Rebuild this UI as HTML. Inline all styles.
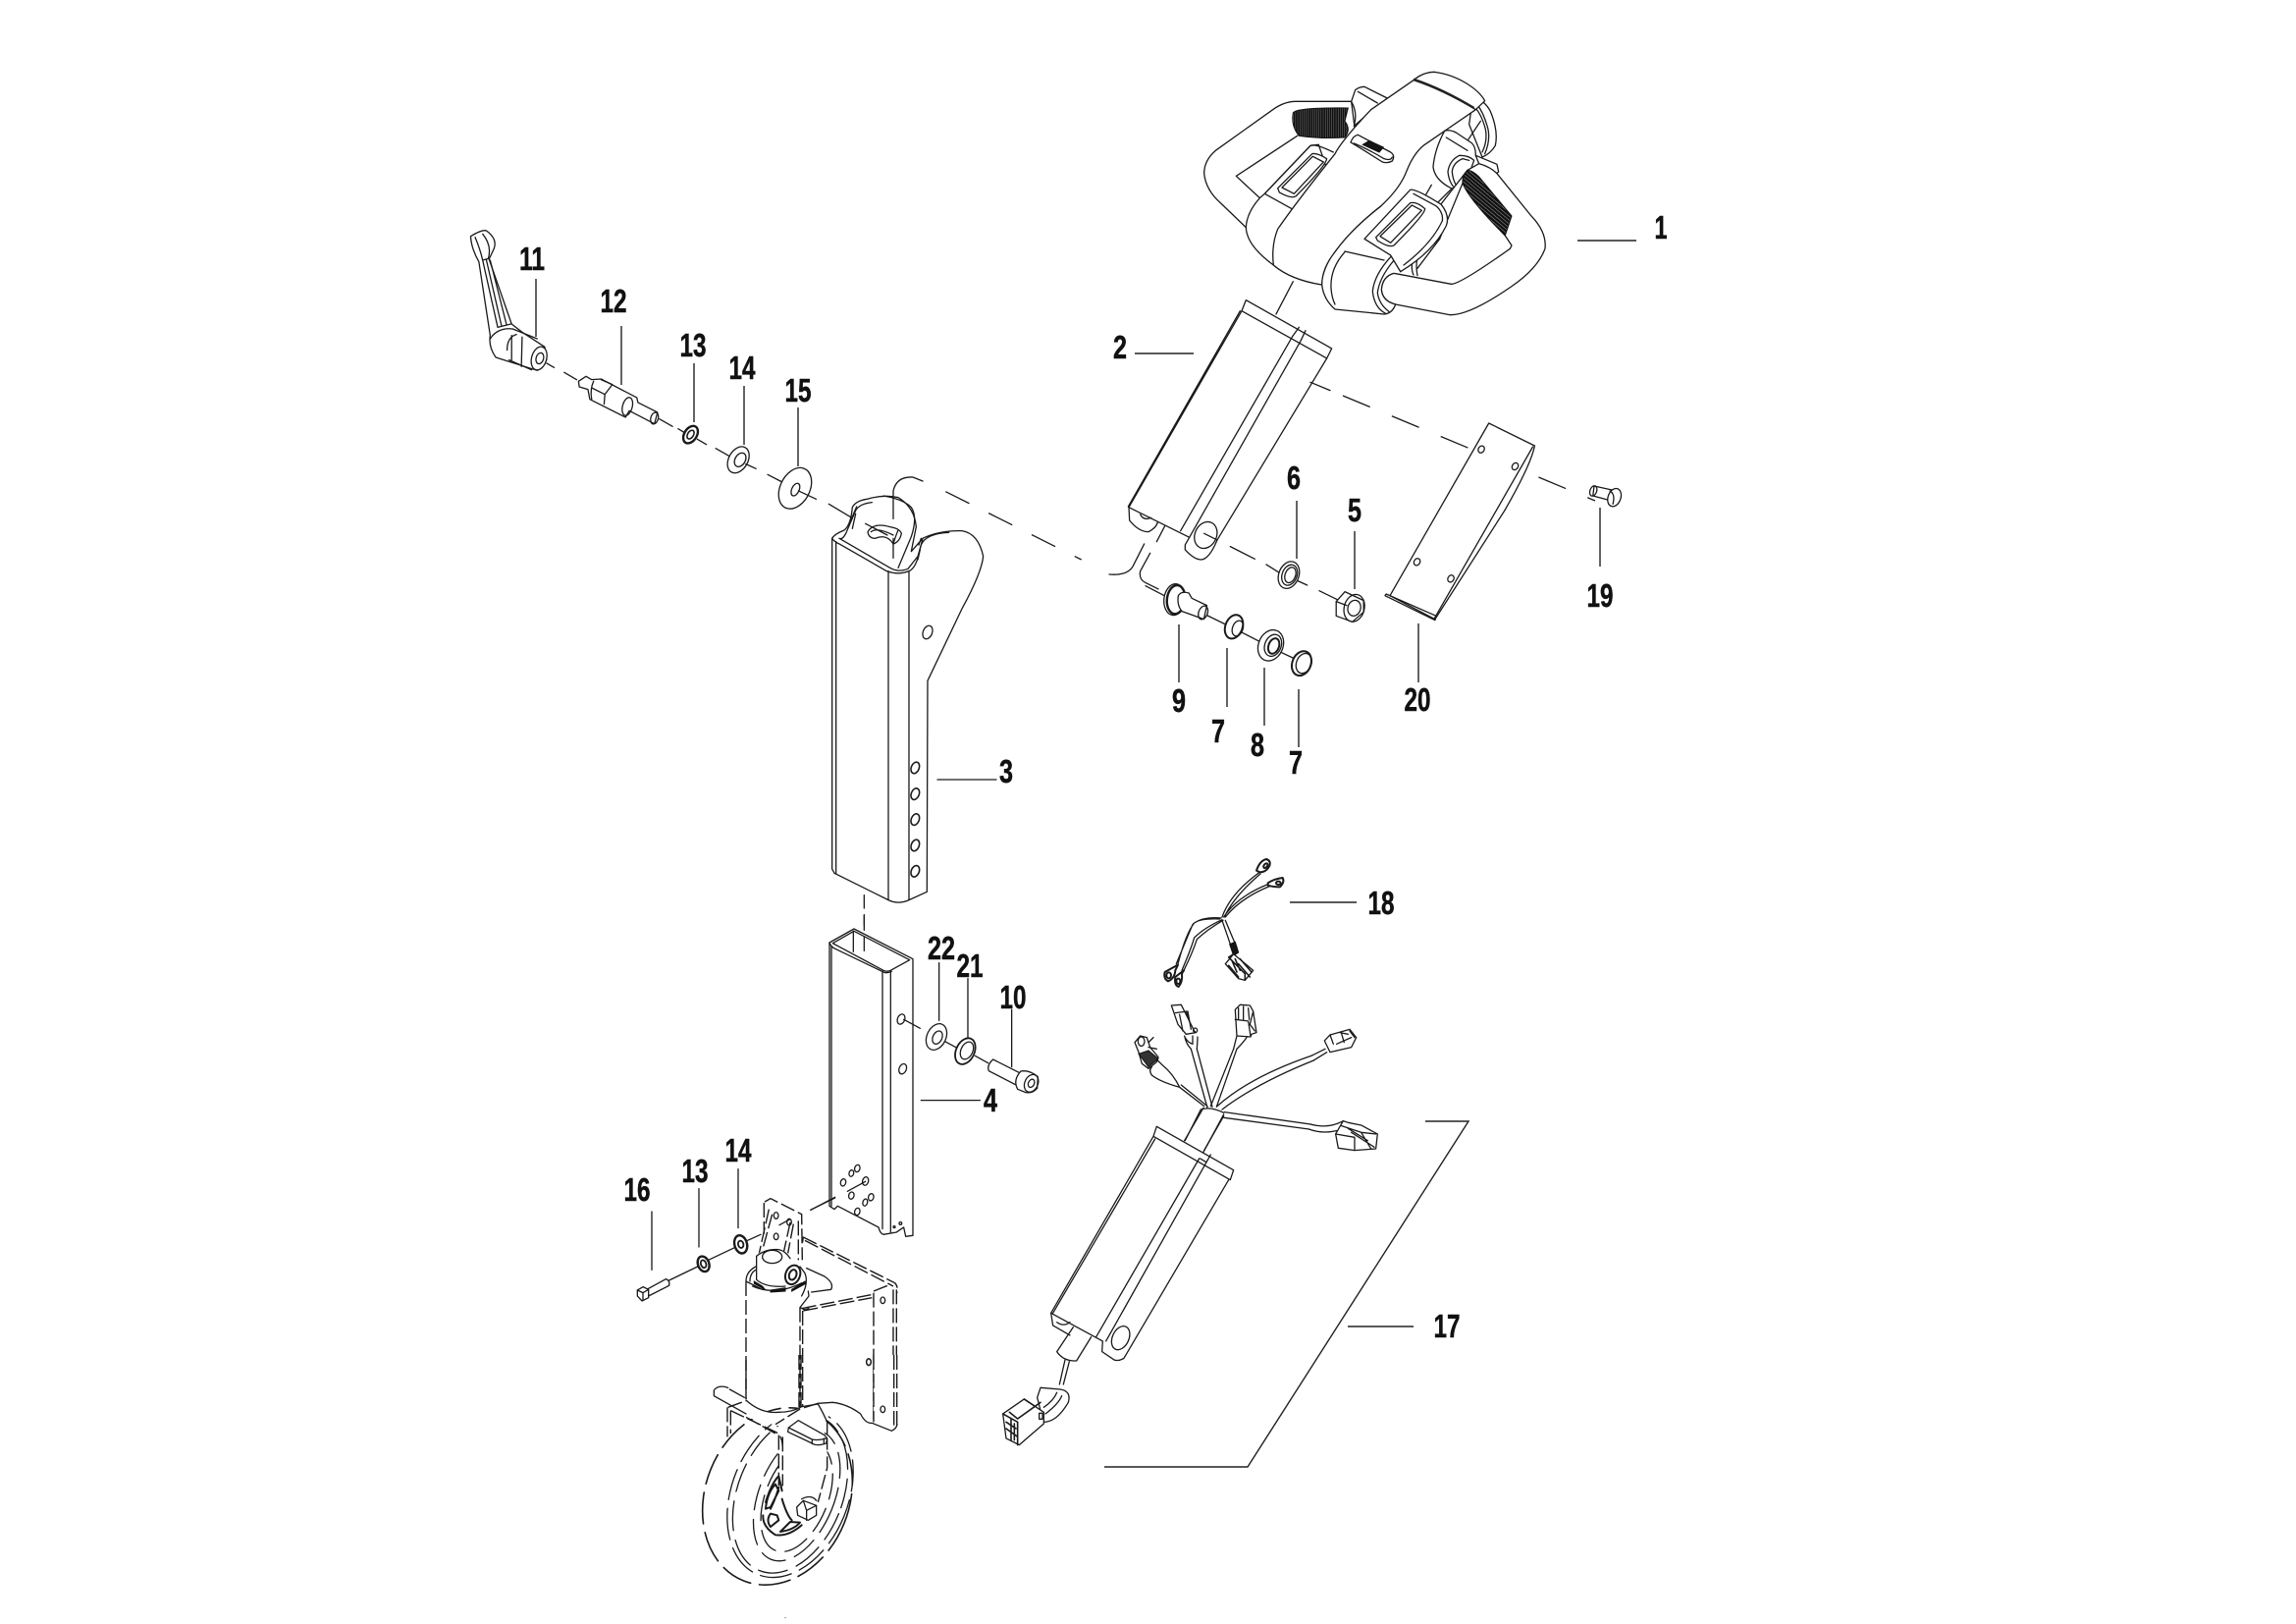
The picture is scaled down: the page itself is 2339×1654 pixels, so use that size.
<!DOCTYPE html>
<html><head><meta charset="utf-8"><style>
html,body{margin:0;padding:0;background:#fff;width:2339px;height:1654px;overflow:hidden}
svg{display:block}
svg *{vector-effect:non-scaling-stroke}
.l{fill:none;stroke:#1a1a1a;stroke-width:1.3;stroke-linecap:round;stroke-linejoin:round}
.w{fill:#fff}
.f{fill:#fff;stroke:#1a1a1a;stroke-width:1.3;stroke-linejoin:round}
.n{fill:#fff;stroke:none}
.d{fill:none;stroke:#1a1a1a;stroke-width:1.3;stroke-dasharray:36 24}
.k{fill:none;stroke:#1a1a1a;stroke-width:1.4;stroke-dasharray:15 4}
.ld{stroke:#222;stroke-width:1.4;fill:none}
.b{fill:#151515;stroke:#111;stroke-width:1}
text{font-family:"Liberation Sans Narrow","Liberation Sans",sans-serif;font-weight:bold;font-size:33px;fill:#111;stroke:#111;stroke-width:.5;text-anchor:middle}
</style></head><body>
<svg width="2339" height="1654" viewBox="0 0 2339 1654" xmlns="http://www.w3.org/2000/svg">
<defs>
<pattern id="r1" patternUnits="userSpaceOnUse" width="6.5" height="40"><rect width="6.5" height="40" fill="#111"/><rect width="1.3" height="40" fill="#888"/></pattern>
<pattern id="r2" patternUnits="userSpaceOnUse" width="9" height="40" patternTransform="rotate(-50)"><rect width="9" height="40" fill="#111"/><rect width="1.6" height="40" fill="#999"/></pattern>
</defs>
<rect width="2339" height="1654" fill="#fff"/>

<!-- Handle (traced) -->
<g transform="translate(1220,60) scale(.3333)">
<line class="l" x1="292" y1="680" x2="240" y2="780"/>
<path class="f" d="M470,130 L300,130 Q265,130 230,155 L55,280 Q20,310 20,350 Q25,400 70,440 L148,515 L300,500 L480,210Z"/>
<path class="l" d="M305,235 L118,358 L190,425"/>
<path d="M292,165 Q300,148 460,150 L450,190 Q470,215 450,240 Q380,245 310,235 Q285,205 292,165Z" fill="url(#r1)" stroke="#111" stroke-width="1"/>
<path class="f" d="M470,130 L482,95 Q495,85 510,85 L580,120 L530,160 L478,205 Q490,165 470,130Z"/>
<path class="l" d="M490,100 L550,135"/>
<!-- rear dome ring -->
<path class="f" d="M840,130 Q870,115 895,160 Q920,220 910,265 Q895,290 870,300 L830,200Z"/>
<path class="l" d="M855,140 Q875,165 888,215 Q895,250 878,290 M850,150 Q870,175 880,215 Q887,250 870,285"/>
<path class="f" d="M660,65 Q690,40 725,40 C800,50 860,95 878,128 L850,155 L700,100Z"/>
<line class="l" x1="865" y1="190" x2="825" y2="250"/>
<!-- left band -->
<path class="f" d="M190,425 Q150,470 148,515 Q150,570 232,630 Q285,675 380,690 L450,500 L370,262 L345,265 L205,412Z"/>
<path class="l" d="M205,412 L295,462 M205,412 L345,265 Q360,258 415,285"/>
<path class="f" d="M245,395 L350,290 Q365,286 395,305 Q390,330 300,420 Q285,428 250,408Z"/>
<path class="l" d="M258,393 L352,298 L385,315 L295,412Z"/>
<!-- main body -->
<path class="f" d="M660,65 L530,155 Q440,250 420,290 Q300,440 245,520 Q225,570 232,630 Q285,675 380,690 Q385,640 420,590 Q470,520 560,450 Q620,395 640,340 Q660,290 690,265 L850,155 Q750,95 660,65Z"/>
<path d="M660,62 Q750,92 845,150" fill="none" stroke="#222" stroke-width="2.2"/>
<path class="f" d="M468,255 Q475,235 490,232 L590,285 Q605,295 595,312 Q580,320 565,315 Q510,280 468,255Z"/>
<path class="l" d="M478,258 Q520,275 570,305 Q590,312 595,300"/>
<path class="b" d="M505,262 L525,250 L568,270 L555,285Z"/>
<!-- struts -->
<line class="l" x1="715" y1="385" x2="695" y2="420"/>
<line class="l" x1="775" y1="398" x2="735" y2="438"/>
<!-- hinge -->
<path class="f" d="M755,220 Q770,215 790,225 L835,255 Q850,265 850,295 L915,322 L920,345 L860,400 L775,395 Q725,370 720,330 Q725,275 755,220Z"/>
<path class="l" d="M760,240 L825,280 M850,295 L860,320"/>
<path class="f" d="M765,345 Q770,310 800,295 Q830,295 845,310 L815,395 L800,405 Q770,390 765,345Z"/>
<path class="l" d="M778,345 Q780,318 810,305 L830,310 M778,345 Q782,385 803,398"/>
<!-- right handle -->
<path class="f" d="M600,655 Q565,665 562,705 Q565,740 605,750 L770,782 Q830,785 960,695 Q1040,640 1062,580 Q1068,530 1020,480 L915,350 Q895,330 860,320 L825,340 L700,500Z"/>
<path class="f" d="M600,655 L775,688 Q800,690 955,580 L960,570 L940,540 L810,380 L740,550Z"/>
<path d="M825,340 Q808,355 810,380 Q830,430 940,540 L960,480 L860,360 Q840,340 825,340Z" fill="url(#r2)" stroke="#111" stroke-width="1"/>
<path class="l" d="M660,600 Q650,640 660,660 M675,590 Q665,630 672,662 M740,550 L672,640"/>
<!-- right housing -->
<path class="f" d="M510,550 L650,400 Q665,395 745,445 Q772,480 760,510 Q720,590 620,650 L590,605Z"/>
<path class="l" d="M660,412 L730,450 Q752,470 748,495 Q715,565 630,630"/>
<path class="f" d="M545,545 L650,440 Q670,435 695,458 Q695,475 600,570 Q585,578 550,555Z"/>
<path class="l" d="M558,542 L655,447 L685,463 L590,562Z"/>
<!-- lower band -->
<path class="f" d="M510,550 L590,600 L620,650 L600,655 Q565,665 562,705 Q565,740 605,750 L575,778 L420,765 Q385,735 380,690 Q385,640 420,590 Q470,520 510,500Z" style="stroke:none"/>
<path class="l" d="M510,550 L590,600 L620,650 M420,590 Q470,520 560,450 M420,590 Q380,640 380,690 Q385,735 420,765 L570,780 Q595,778 605,750 M450,590 Q405,640 408,700 Q410,730 420,750 M450,588 L570,615"/>
<path class="l" d="M590,605 Q540,660 535,710 Q540,760 575,778 M598,618 Q555,670 550,715 Q555,750 585,772"/>
<path class="l" d="M600,655 Q565,665 562,705 Q565,740 605,750"/>
</g>

<!-- Part 2 (traced) -->
<g transform="translate(1130,300) scale(.3333)">
<path class="n" d="M405,50 L418,17 L680,165 L668,192 L330,750 Q300,810 280,810 L232,780 L245,742 L60,650Z"/>
<path class="l" d="M405,50 L418,17 L680,165 L665,195 L405,50 L60,650 M400,50 L58,648"/>
<path class="l" d="M665,195 L330,750 Q305,810 280,810 Q260,810 232,780 L232,765 L245,742 L60,650"/>
<path class="l" d="M60,650 L62,690 Q90,725 120,725 Q145,712 148,695 M95,672 Q105,692 128,682"/>
<path class="l" d="M580,100 L560,128 L218,722 M600,110 L585,142 L245,742"/>
<ellipse class="l" cx="295" cy="735" rx="33" ry="42" transform="rotate(25 295 735)"/>
<path class="l" d="M290,730 L330,750 M370,770 L445,808 M480,825 L520,850"/>
<path class="l" d="M615,268 L675,293"/>
<path class="l" d="M0,855 Q60,860 75,825 L107,762 M145,755 L170,707 M125,790 L95,845 Q90,870 110,880 L150,900"/>
</g>
<path class="d" style="stroke-dasharray:30 24" d="M1368,403 L1625,510"/>

<!-- plate 20 & small parts -->
<g transform="translate(1100,420) scale(.383,.3333)">
<path class="f" d="M1088,33 L1210,102 Q1200,160 1130,300 L945,632 L825,560Z"/>
<path class="l" d="M1205,105 L942,632 M812,560 L945,635 L948,622 L815,555Z"/>
<ellipse class="l" cx="1068" cy="113" rx="8" ry="11" transform="rotate(20 1068 113)"/>
<ellipse class="l" cx="1158" cy="165" rx="8" ry="11" transform="rotate(20 1158 165)"/>
<ellipse class="l" cx="897" cy="457" rx="8" ry="11" transform="rotate(20 897 457)"/>
<ellipse class="l" cx="987" cy="508" rx="8" ry="11" transform="rotate(20 987 508)"/>
<!-- 19 -->
<path class="f" d="M1368,225 L1420,238 L1420,272 L1365,255Z"/>
<ellipse class="l" cx="1366" cy="240" rx="9" ry="16" transform="rotate(15 1366 240)"/>
<ellipse class="f" cx="1422" cy="260" rx="17" ry="28" transform="rotate(15 1422 260)"/>
<path class="l" d="M1410,240 Q1425,250 1418,280"/>
<!-- dashes centre -->
<line class="l" x1="580" y1="515" x2="605" y2="528"/>
<line class="l" x1="637" y1="545" x2="685" y2="572"/>
<!-- 6 -->
<ellipse class="f" cx="556" cy="497" rx="27" ry="42" transform="rotate(15 556 497)"/>
<ellipse class="l" cx="558" cy="497" rx="20" ry="32" transform="rotate(15 558 497)"/>
<ellipse class="l" cx="560" cy="497" rx="14" ry="24" transform="rotate(15 560 497)"/>
<!-- 5 nut -->
<path class="f" d="M682,578 L705,548 L755,575 L755,610 L725,640 L682,622Z"/>
<ellipse class="l" cx="730" cy="598" rx="17" ry="24" transform="rotate(10 730 598)"/>
<ellipse class="l" cx="730" cy="598" rx="27" ry="42" transform="rotate(10 730 598)"/>
<path class="l" d="M682,578 L710,590"/>
<path class="l" d="M175,530 L225,560"/>
<!-- 9 -->
<ellipse class="f" cx="252" cy="572" rx="28" ry="48" transform="rotate(5 252 572)"/>
<ellipse class="l" cx="256" cy="572" rx="24" ry="44" transform="rotate(5 256 572)" style="stroke-width:2.4"/>
<path class="f" d="M262,560 Q270,545 290,552 L298,568 L338,590 L330,632 L272,608 Q258,590 262,560Z"/>
<ellipse class="l" cx="328" cy="612" rx="12" ry="21" transform="rotate(15 328 612)"/>
<line class="l" x1="338" y1="620" x2="388" y2="648"/>
<!-- 7 -->
<ellipse class="f" cx="410" cy="655" rx="23" ry="37" transform="rotate(15 410 655)" style="stroke-width:2"/>
<ellipse class="l" cx="420" cy="660" rx="14" ry="24" transform="rotate(15 420 660)"/>
<line class="l" x1="432" y1="673" x2="478" y2="700"/>
<!-- 8 -->
<ellipse class="f" cx="508" cy="712" rx="33" ry="48" transform="rotate(15 508 712)"/>
<ellipse class="l" cx="514" cy="712" rx="22" ry="34" transform="rotate(15 514 712)"/>
<ellipse class="l" cx="516" cy="714" rx="14" ry="24" transform="rotate(15 516 714)" style="stroke-width:2"/>
<line class="l" x1="535" y1="733" x2="570" y2="752"/>
<!-- 7b -->
<ellipse class="f" cx="590" cy="767" rx="25" ry="38" transform="rotate(15 590 767)" style="stroke-width:2"/>
<ellipse class="l" cx="596" cy="767" rx="20" ry="31" transform="rotate(15 596 767)"/>
</g>

<!-- Lever & washers upper-left -->
<g transform="translate(440,210) scale(.383,.3333)">
<path class="f" d="M103,92 Q135,70 145,75 Q175,100 165,130 L152,162 L212,360 L240,385 L300,430 L305,470 L280,502 L170,462 Q150,430 155,395 L125,170 Q105,130 103,92Z"/>
<path class="l" d="M115,95 Q128,130 135,165 L150,160 M135,165 L175,370 L210,360 M135,85 Q160,120 150,160 M145,165 L185,365 M155,165 L198,360 M155,405 Q175,370 215,375 L280,405"/>
<path class="l" d="M200,440 Q200,400 225,392 M212,395 L212,470 M240,400 L238,490 M205,470 L265,500"/>
<ellipse class="f" cx="285" cy="465" rx="20" ry="36" transform="rotate(12 285 465)"/>
<ellipse class="l" cx="287" cy="465" rx="10" ry="17" transform="rotate(12 287 465)"/>
<line class="l" x1="305" y1="480" x2="325" y2="493"/><line class="l" x1="352" y1="508" x2="385" y2="530"/>
<!-- 12 -->
<path class="f" d="M390,535 L410,520 L425,530 L450,528 L545,585 L548,600 L600,630 L592,665 L525,625 L515,645 L420,590 L415,560 L392,552Z"/>
<ellipse class="l" cx="592" cy="648" rx="10" ry="18" transform="rotate(12 592 648)"/>
<ellipse class="l" cx="520" cy="612" rx="13" ry="28" transform="rotate(12 520 612)"/>
<path class="l" d="M425,555 L460,575 L480,545 L450,530 M460,575 L458,605 M430,535 Q420,560 425,590"/>
<line class="l" x1="605" y1="650" x2="640" y2="673"/>
<line class="l" x1="655" y1="680" x2="672" y2="692"/>
<!-- 13 -->
<ellipse class="f" cx="688" cy="698" rx="17" ry="28" transform="rotate(25 688 698)" style="stroke-width:2.4"/>
<ellipse class="l" cx="688" cy="698" rx="8" ry="14" transform="rotate(25 688 698)" style="stroke-width:1.6"/>
<line class="l" x1="706" y1="712" x2="730" y2="728"/><line class="l" x1="755" y1="740" x2="790" y2="763"/>
<!-- 14 -->
<ellipse class="f" cx="815" cy="775" rx="26" ry="42" transform="rotate(22 815 775)"/>
<ellipse class="l" cx="820" cy="775" rx="14" ry="22" transform="rotate(22 820 775)"/>
<line class="l" x1="835" y1="788" x2="862" y2="802"/><line class="l" x1="893" y1="820" x2="930" y2="842"/>
<!-- 15 -->
<ellipse class="f" cx="966" cy="862" rx="40" ry="65" transform="rotate(20 966 862)"/>
<ellipse class="l" cx="967" cy="866" rx="10" ry="20" transform="rotate(20 967 866)"/>
<line class="l" x1="975" y1="870" x2="1022" y2="895"/>
</g>

<!-- Column part 3 -->
<g transform="translate(800,480) scale(.3333)">
<path class="f" d="M143,205 Q150,192 180,180 Q200,165 205,110 Q215,90 250,85 Q300,70 345,80 Q395,110 400,170 L385,245 L420,205 Q470,180 540,182 Q590,190 605,260 Q600,310 540,420 L435,640 L433,1285 L378,1310 Q345,1325 315,1310 L150,1228 L143,1215Z"/>
<path class="l" d="M155,215 L155,1230 M315,305 L315,1310 M378,305 L378,1310"/>
<path class="l" d="M143,205 Q150,215 165,222 L310,305 Q345,318 378,305 Q395,298 405,265 L420,205"/>
<path class="l" d="M165,205 Q175,210 185,190 L215,120 Q225,100 265,95 M165,205 L320,295 Q345,310 375,298 L405,260 L415,225 Q430,190 500,187"/>
<path class="l" d="M200,150 L218,108 M205,175 L215,130 M408,225 L415,205 M405,270 L412,240"/>
<path class="l" d="M345,295 L385,200 Q405,140 385,110 Q360,85 300,75"/>
<path class="f" d="M252,185 Q270,155 320,170 Q350,175 355,190 Q350,215 330,222 Q310,190 275,205 Q255,205 252,185Z"/>
<path class="l" d="M262,185 Q280,170 330,195 M330,222 Q340,190 345,180"/>
<line class="l" x1="133" y1="100" x2="200" y2="140"/>
<line class="l" x1="245" y1="160" x2="312" y2="195"/>
<path class="l" d="M330,145 L330,60 Q340,15 390,18 L420,30"/>
<line class="l" x1="330" y1="205" x2="330" y2="265"/>
<path class="d" style="stroke-dasharray:27 22" d="M490,62 L905,270"/>
<ellipse class="l" cx="435" cy="492" rx="14" ry="21" transform="rotate(22 435 492)"/>
<ellipse class="l" cx="397" cy="906" rx="12" ry="18" transform="rotate(22 397 906)" style="stroke-width:1.6"/>
<ellipse class="l" cx="397" cy="986" rx="12" ry="18" transform="rotate(22 397 986)" style="stroke-width:1.6"/>
<ellipse class="l" cx="397" cy="1064" rx="12" ry="18" transform="rotate(22 397 1064)" style="stroke-width:1.6"/>
<ellipse class="l" cx="397" cy="1143" rx="12" ry="18" transform="rotate(22 397 1143)" style="stroke-width:1.6"/>
<ellipse class="l" cx="397" cy="1222" rx="12" ry="18" transform="rotate(22 397 1222)" style="stroke-width:1.6"/>
<line class="l" x1="465" y1="942" x2="645" y2="942"/>
<line class="l" x1="241" y1="1295" x2="241" y2="1335"/>
<line class="l" x1="241" y1="1355" x2="241" y2="1385"/>
</g>

<!-- Tube part 4 -->
<g transform="translate(800,930) scale(.3333)">
<path class="f" d="M135,90 L210,48 L390,140 L390,985 L368,988 L362,960 L340,975 L300,982 Q290,980 285,960 L160,895 L150,905 L135,895Z"/>
<path class="l" d="M145,92 L210,55 L380,143 L322,175 Q310,180 300,175Z"/>
<path class="l" d="M135,90 Q140,105 155,110 L300,180 Q310,185 325,178 M141,100 L141,895 M297,178 L297,965 M322,178 L322,975 M208,55 L208,118"/>
<line class="l" x1="241" y1="8" x2="241" y2="52"/>
<line class="l" x1="241" y1="72" x2="241" y2="115"/>
<ellipse class="l" cx="354" cy="324" rx="11" ry="16" transform="rotate(22 354 324)"/>
<ellipse class="l" cx="359" cy="476" rx="11" ry="16" transform="rotate(22 359 476)"/>
<line class="l" x1="362" y1="325" x2="412" y2="352"/>
<ellipse class="l" cx="177" cy="823" rx="8" ry="11" transform="rotate(15 177 823)"/>
<ellipse class="l" cx="202" cy="795" rx="7" ry="10" transform="rotate(15 202 795)"/>
<ellipse class="l" cx="220" cy="780" rx="8" ry="11" transform="rotate(15 220 780)"/>
<ellipse class="l" cx="245" cy="819" rx="9" ry="13" transform="rotate(15 245 819)"/>
<ellipse class="l" cx="202" cy="863" rx="8" ry="11" transform="rotate(15 202 863)"/>
<ellipse class="l" cx="244" cy="884" rx="7" ry="11" transform="rotate(15 244 884)"/>
<ellipse class="l" cx="262" cy="868" rx="8" ry="11" transform="rotate(15 262 868)"/>
<ellipse class="l" cx="220" cy="912" rx="8" ry="11" transform="rotate(15 220 912)"/>
<circle class="l" cx="333" cy="959" r="3"/><circle class="l" cx="352" cy="948" r="4"/>
<line class="l" x1="190" y1="850" x2="245" y2="820"/>
<line class="l" x1="78" y1="907" x2="152" y2="868"/>
<line class="l" x1="415" y1="572" x2="595" y2="572"/>
<!-- washers -->
<ellipse class="f" cx="462" cy="378" rx="29" ry="42" transform="rotate(25 462 378)"/>
<ellipse class="l" cx="465" cy="380" rx="14" ry="21" transform="rotate(25 465 380)"/>
<line class="l" x1="488" y1="392" x2="525" y2="412"/>
<ellipse class="f" cx="550" cy="422" rx="28" ry="42" transform="rotate(25 550 422)" style="stroke-width:1.8"/>
<ellipse class="l" cx="555" cy="420" rx="18" ry="28" transform="rotate(25 555 420)"/>
<line class="l" x1="580" y1="436" x2="620" y2="458"/>
<path class="f" d="M635,447 L720,490 L705,525 L622,482 Q615,465 635,447Z"/>
<path class="f" d="M720,483 Q745,478 772,500 L770,535 Q755,552 735,548 L710,538 Q695,510 720,483Z"/>
<ellipse class="l" cx="752" cy="520" rx="20" ry="28" transform="rotate(25 752 520)"/>
<ellipse class="l" cx="752" cy="520" rx="9" ry="13" transform="rotate(25 752 520)"/>
<line class="l" x1="470" y1="152" x2="470" y2="328"/>
<line class="l" x1="558" y1="200" x2="558" y2="380"/>
<line class="l" x1="692" y1="295" x2="692" y2="470"/>
</g>

<!-- Lower support -->
<g transform="translate(620,1150) scale(.3333)">
<path class="n" d="M477,222 L495,212 Q570,235 592,265 L590,320 L580,410 L460,380 L480,300Z"/>
<path class="k" d="M475,225 L475,320 M477,222 L495,212 L590,260 L592,400 M580,280 L580,400 M490,245 L460,380 M500,260 L470,370 M555,285 L530,400 M565,290 L545,395"/>
<ellipse class="l" cx="512" cy="264" rx="7" ry="10"/><ellipse class="l" cx="552" cy="284" rx="7" ry="10"/><ellipse class="l" cx="512" cy="328" rx="7" ry="10"/>
<line class="l" x1="522" y1="293" x2="555" y2="275"/>
<line class="l" x1="617" y1="247" x2="692" y2="210"/>
<path class="k" d="M595,330 L875,470 Q885,480 882,500 M600,340 L870,480"/>
<path class="k" d="M810,495 L860,475 M590,548 L808,505 M595,555 L805,515"/>
<path class="k" d="M810,500 L810,900 M870,490 L870,900 M880,490 L880,900"/>
<path class="k" d="M420,465 L420,825 M585,545 L585,850 M593,555 L593,850" />
<path class="n" d="M417,465 Q425,425 450,415 L452,385 Q470,365 520,368 Q560,380 570,400 Q600,430 605,450 Q610,500 590,540 L480,500Z"/>
<path class="l" d="M452,388 L452,460 Q480,485 540,480 M452,388 Q480,365 520,368 Q540,372 555,395"/>
<ellipse class="l" cx="500" cy="390" rx="30" ry="20"/>
<path class="l" d="M420,465 Q420,435 450,420 M432,465 Q432,440 450,430 M590,510 Q612,470 600,440 L585,420 M605,425 L660,450 Q690,470 680,490 L620,498 M420,465 L470,490 M440,480 Q510,510 590,470"/>
<path class="b" d="M445,472 L478,490 L470,480 L445,465Z M495,492 L540,485 L540,495 L495,498Z M560,490 L600,465 L602,472 L560,495Z" />
<ellipse class="f" cx="563" cy="445" rx="22" ry="30" transform="rotate(20 563 445)" style="stroke-width:2"/>
<ellipse class="l" cx="563" cy="445" rx="11" ry="16" transform="rotate(20 563 445)" style="stroke-width:2"/>
<path class="l" d="M610,495 L612,510 L585,545 M585,545 L600,552 L612,548"/>
<ellipse class="l" cx="838" cy="523" rx="7" ry="10"/><ellipse class="l" cx="795" cy="711" rx="7" ry="10"/><ellipse class="l" cx="838" cy="855" rx="7" ry="10"/>
<path class="l" d="M595,330 L593,345"/>
<line class="l" x1="396" y1="122" x2="396" y2="302"/>
<line class="l" x1="276" y1="182" x2="276" y2="360"/>
<line class="l" x1="132" y1="252" x2="132" y2="430"/>
<!-- washers -->
<ellipse class="f" cx="404" cy="352" rx="19" ry="28" transform="rotate(-15 404 352)" style="stroke-width:2.4"/>
<ellipse class="l" cx="404" cy="352" rx="8" ry="11" transform="rotate(-15 404 352)" style="stroke-width:1.8"/>
<line class="l" x1="425" y1="340" x2="465" y2="322"/>
<line class="l" x1="305" y1="400" x2="385" y2="362"/>
<ellipse class="f" cx="290" cy="412" rx="17" ry="24" transform="rotate(-20 290 412)" style="stroke-width:2.4"/>
<ellipse class="l" cx="290" cy="412" rx="8" ry="12" transform="rotate(-20 290 412)" style="stroke-width:1.8"/>
<line class="l" x1="185" y1="462" x2="272" y2="420"/>
<path class="f" d="M120,488 L175,458 Q188,462 185,478 L122,510Z"/>
<path class="f" d="M88,492 L105,482 L122,490 L122,515 L102,525 L88,510Z"/>
<path class="l" d="M105,500 L105,522 M88,492 L105,500 L122,490"/>
</g>

<!-- Wheel -->
<g transform="translate(690,1380) scale(.3333)">
<ellipse class="l" cx="306" cy="432" rx="220" ry="278" transform="rotate(22 306 432)" style="stroke-dasharray:32 9;stroke-width:1.6"/>
<ellipse class="l" cx="345" cy="425" rx="178" ry="265" transform="rotate(22 345 425)" style="stroke-dasharray:32 9"/>
<ellipse class="l" cx="345" cy="425" rx="160" ry="252" transform="rotate(22 345 425)" style="stroke-dasharray:30 10"/>
<ellipse class="l" cx="365" cy="430" rx="115" ry="210" transform="rotate(22 365 430)" style="stroke-dasharray:26 10"/>
<ellipse class="l" cx="365" cy="435" rx="95" ry="175" transform="rotate(22 365 435)" style="stroke-dasharray:26 10"/>
<path class="n" d="M310,220 L340,220 L445,210 L458,290 L455,340 L425,455 L310,400Z"/>
<path class="l" d="M262,490 Q260,525 300,550 Q340,555 380,520 M270,450 Q285,400 305,375 L310,370 L320,415 M285,470 Q300,440 310,405 M320,440 Q335,490 350,505 M285,485 Q270,505 285,525 L310,505 L305,490Z M315,540 L345,510 L375,512 Q355,535 315,540Z M270,470 Q275,420 300,395 L310,415 L285,465Z" style="stroke-width:2"/>
<path class="f" d="M365,465 L385,445 L425,460 L425,490 L400,505 L368,490Z"/>
<path class="l" d="M385,445 L395,475 L425,460 M395,475 L395,505 M380,440 Q410,425 425,445"/>
<path class="k" d="M310,245 L310,400 M322,250 L322,400 M458,200 L458,290 M458,310 L458,345 L430,450"/>
<path class="n" d="M112,108 Q125,90 155,100 L215,140 Q260,180 310,175 Q350,175 380,160 L430,150 Q480,140 520,165 L570,190 L585,210 L598,208 L660,232 L672,215 L672,0 L600,0 L600,215 L520,165 L458,145 L462,195 L440,210 L340,225 L300,215 L210,190 L170,160Z"/>
<path class="l" d="M112,108 L112,125 L210,180 M112,108 Q125,90 155,100 M160,105 L205,130" />
<path class="k" d="M210,15 L210,135 M378,0 L378,160 M372,0 L372,160 M600,0 L600,205 M662,0 L662,215 M671,0 L671,215"/>
<path class="l" d="M210,138 Q255,180 310,175 Q350,175 380,158 L430,150 Q445,175 458,205"/>
<path class="k" d="M430,148 L375,165 L300,212 M153,160 L153,250 M163,170 L163,240 M155,160 L210,140 M163,170 L300,235 Q320,245 322,280 M210,190 L300,240"/>
<path class="l" d="M430,148 L475,145 Q520,150 560,180 Q575,210 595,208 L655,232 Q670,225 672,212"/>
<path class="f" d="M340,222 L370,200 L450,245 L458,255 L455,270 Q425,280 412,270 L338,235Z"/>
<path class="l" d="M412,258 Q430,262 455,255 M412,258 L412,272 M340,222 L412,258 M448,255 L448,272"/>
<ellipse class="l" cx="585" cy="22" rx="7" ry="10"/><ellipse class="l" cx="628" cy="166" rx="7" ry="10"/>
<circle cx="330" cy="803" r="1.5" fill="#111"/>
</g>

<!-- Harness 18 & connectors -->
<g transform="translate(1120,860) scale(.3333)">
<path class="l" d="M375,222 Q400,150 490,85 M382,222 Q410,160 492,90 M380,222 Q420,160 515,122 M385,222 Q430,165 520,128"/>
<path class="f" d="M480,80 Q490,50 510,45 Q525,50 520,65 Q510,85 490,85Z" style="stroke-width:2"/>
<ellipse class="l" cx="508" cy="65" rx="5" ry="8" transform="rotate(40 508 65)" style="stroke-width:2"/>
<path class="f" d="M515,118 Q535,105 560,102 Q567,115 552,130 Q530,130 515,125Z" style="stroke-width:2"/>
<ellipse class="l" cx="547" cy="118" rx="7" ry="5" style="stroke-width:2"/>
<path class="l" d="M372,225 Q320,220 290,240 Q265,270 240,365 M368,228 Q300,225 285,245 Q270,280 235,365 M375,230 Q320,255 290,285 Q280,320 252,385 M378,232 Q330,260 298,290 Q285,330 258,385"/>
<path class="f" d="M240,368 L200,390 Q195,410 210,418 Q230,410 232,385Z" style="stroke-width:2"/>
<ellipse class="l" cx="212" cy="400" rx="7" ry="9" style="stroke-width:2"/>
<path class="f" d="M258,385 L232,405 Q228,430 242,435 Q255,420 252,395Z" style="stroke-width:2"/>
<ellipse class="l" cx="241" cy="418" rx="6" ry="8" style="stroke-width:2"/>
<path class="l" d="M375,232 L395,290 L405,320 M385,232 L405,280 L420,315"/>
<path class="b" d="M398,305 L415,298 L425,330 L410,340Z"/>
<path class="f" d="M385,365 L410,335 L470,385 L445,415 L425,410Z"/>
<path class="l" d="M395,345 L445,395 L445,415 M410,335 L395,345 M415,350 L430,385 M405,355 L420,390 M430,350 L465,390 M425,365 L460,405 M395,370 L425,405" style="stroke-width:1.6"/>
<!-- big -->
<path class="n" d="M320,805 L345,800 L385,825 L300,1000 L240,960Z"/>
<path class="l" d="M310,810 Q340,800 380,820 M310,810 L262,905 M380,825 L310,955"/>
<path class="l" d="M330,805 L280,625 M345,802 L298,625"/>
<path class="l" d="M340,800 L410,625 M358,802 L420,625"/>
<path class="f" d="M220,492 L250,490 L290,570 L295,575 L265,580 L240,550Z"/>
<path class="l" d="M232,515 L270,510 L280,565 M245,520 L255,570 M265,510 L278,550" />
<ellipse class="l" cx="293" cy="568" rx="6" ry="7"/>
<path class="l" d="M260,585 Q265,610 280,625 M300,588 Q300,600 298,625 M285,585 L285,610 Q270,605 262,590"/>
<path class="f" d="M415,505 L430,490 L460,492 L470,510 L480,575 L465,580 L462,588 L420,585Z"/>
<path class="l" d="M415,535 L455,540 L462,585 M425,500 L425,535 M440,495 L440,535 M455,500 L458,535 M470,510 L460,550 L475,570"/>
<path class="l" d="M420,585 L410,625 M450,590 Q440,605 420,625"/>
<path class="l" d="M245,742 Q225,700 190,672 L178,660 M245,742 Q185,725 160,705 Q150,690 160,680"/>
<path class="f" d="M108,605 L125,585 L145,590 L155,620 L180,650 L175,665 L150,685 L130,670 L120,635Z"/>
<path class="b" d="M120,640 L150,630 L180,655 L150,680Z" style="fill:#333"/>
<ellipse class="l" cx="128" cy="602" rx="10" ry="14"/>
<path class="l" d="M150,605 L165,590 M150,620 L175,625"/>
<path class="l" d="M245,742 L320,800 M250,735 L330,800"/>
<path class="l" d="M360,800 Q460,710 650,645 M375,810 Q480,730 655,660"/>
<path class="l" d="M650,645 L690,625 M655,660 L695,635"/>
<path class="f" d="M688,600 L705,582 L765,565 L785,590 L770,620 L705,635Z"/>
<path class="l" d="M725,610 L770,590 M735,575 L760,580 M740,578 L748,605 M765,570 L780,590 M705,582 L715,610"/>
<path class="l" d="M382,818 L645,855 M380,835 L640,870"/>
<path class="l" d="M645,855 Q700,870 745,845 M640,870 Q680,885 725,875"/>
<path class="f" d="M745,845 L760,850 L800,858 L850,885 L845,930 L780,935 L730,928 L722,885Z"/>
<path class="l" d="M722,885 L780,895 L780,935 M740,860 L800,880 L845,885 M770,880 L840,925 M800,880 L830,930 M760,868 L820,905"/>
</g>

<!-- Cover 17 -->
<g transform="translate(980,1120) scale(.3333)">
<path class="n" d="M272,652 L585,110 L600,82 L830,215 L820,245 L500,790 Q480,800 430,770 L425,745 L340,695 L275,690Z"/>
<path class="l" d="M272,652 L585,112 M278,652 L590,120 M585,112 L595,82 L830,215 L820,245 L585,112"/>
<path class="l" d="M725,180 L410,725 M760,168 L745,195 L440,738 M745,190 L728,180"/>
<path class="l" d="M815,245 L495,790 Q480,800 465,795 L428,770 L430,738 L272,652"/>
<ellipse class="l" cx="485" cy="728" rx="25" ry="38" transform="rotate(25 485 728)"/>
<path class="l" d="M272,652 L278,690 L330,720 M290,680 Q310,695 330,680"/>
<path class="l" d="M340,695 L290,770 Q310,800 350,798 L395,725"/>
<path class="l" d="M315,795 L298,870 M328,800 L310,870"/>
<path class="f" d="M240,880 L300,885 Q335,890 325,925 Q290,985 250,985 L240,950 L230,910Z"/>
<path class="l" d="M250,940 Q280,920 290,895 M255,960 Q295,930 305,905"/>
<path class="f" d="M125,960 L190,915 L250,955 L250,990 L175,1055 L135,1035Z"/>
<path class="l" d="M125,960 L170,985 L170,1055 M145,955 L170,975 L240,925 M190,915 L220,935 M135,985 L165,1005 M135,1005 L170,1030 M150,975 L150,1040 M160,990 L160,1040" style="stroke-width:1.6"/>
<rect class="l" x="236" y="958" width="10" height="18"/>
<line class="l" x1="680" y1="125" x2="738" y2="25"/>
<line class="l" x1="740" y1="155" x2="800" y2="50"/>
</g>

<!-- Leaders -->
<g class="ld">
<path d="M1607,245H1667"/><path d="M1156,360H1216"/>
<path d="M1321,510V569"/><path d="M1380,541V600"/>
<path d="M1201,636V695"/><path d="M1250,660V720"/><path d="M1288,680V739"/><path d="M1323,702V761"/>
<path d="M1630,517V577"/><path d="M1445,635V695"/>
<path d="M1314,919H1382"/>
<path d="M1125,1494H1271L1496,1142H1452"/>
<path d="M1373,1351H1440"/>
<path d="M546,284V343"/><path d="M633,332V392"/><path d="M707,370V430"/><path d="M758,393V453"/><path d="M813,415V475"/>
</g>

<!-- Labels -->
<text x="1692" y="243" textLength="13" lengthAdjust="spacingAndGlyphs">1</text>
<text x="1141" y="365" textLength="14" lengthAdjust="spacingAndGlyphs">2</text>
<text x="1025" y="797" textLength="14" lengthAdjust="spacingAndGlyphs">3</text>
<text x="1009" y="1132" textLength="14" lengthAdjust="spacingAndGlyphs">4</text>
<text x="1380" y="531" textLength="14" lengthAdjust="spacingAndGlyphs">5</text>
<text x="1318" y="498" textLength="14" lengthAdjust="spacingAndGlyphs">6</text>
<text x="1241" y="756" textLength="14" lengthAdjust="spacingAndGlyphs">7</text>
<text x="1320" y="788" textLength="14" lengthAdjust="spacingAndGlyphs">7</text>
<text x="1281" y="770" textLength="14" lengthAdjust="spacingAndGlyphs">8</text>
<text x="1201" y="725" textLength="14" lengthAdjust="spacingAndGlyphs">9</text>
<text x="1032" y="1027" textLength="27" lengthAdjust="spacingAndGlyphs">10</text>
<text x="542" y="275" textLength="26" lengthAdjust="spacingAndGlyphs">11</text>
<text x="625" y="318" textLength="27" lengthAdjust="spacingAndGlyphs">12</text>
<text x="706" y="363" textLength="27" lengthAdjust="spacingAndGlyphs">13</text>
<text x="756" y="386" textLength="27" lengthAdjust="spacingAndGlyphs">14</text>
<text x="813" y="409" textLength="27" lengthAdjust="spacingAndGlyphs">15</text>
<text x="708" y="1204" textLength="27" lengthAdjust="spacingAndGlyphs">13</text>
<text x="752" y="1183" textLength="27" lengthAdjust="spacingAndGlyphs">14</text>
<text x="649" y="1223" textLength="27" lengthAdjust="spacingAndGlyphs">16</text>
<text x="1474" y="1362" textLength="27" lengthAdjust="spacingAndGlyphs">17</text>
<text x="1407" y="931" textLength="27" lengthAdjust="spacingAndGlyphs">18</text>
<text x="1630" y="618" textLength="27" lengthAdjust="spacingAndGlyphs">19</text>
<text x="1444" y="724" textLength="27" lengthAdjust="spacingAndGlyphs">20</text>
<text x="988" y="995" textLength="27" lengthAdjust="spacingAndGlyphs">21</text>
<text x="959" y="977" textLength="28" lengthAdjust="spacingAndGlyphs">22</text>
</svg>
</body></html>
